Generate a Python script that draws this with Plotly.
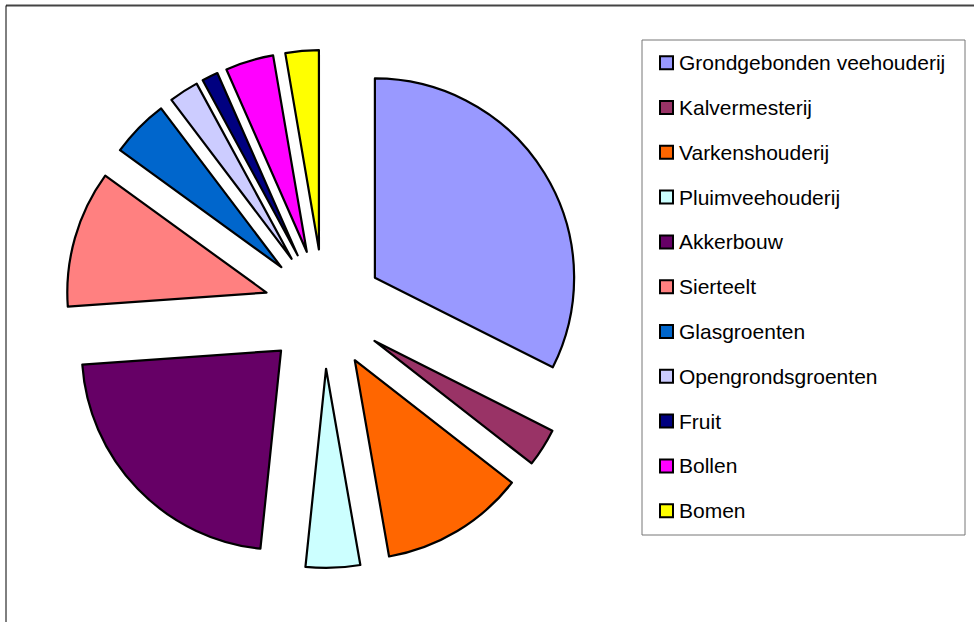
import plotly.graph_objects as go

# share of each sector (percent)
sectors = ["Grondgebonden veehouderij", "Kalvermesterij", "Varkenshouderij",
           "Pluimveehouderij", "Akkerbouw", "Sierteelt", "Glasgroenten",
           "Opengrondsgroenten", "Fruit", "Bollen", "Bomen"]
shares = [32.4, 3.1, 11.7, 4.4, 22.2, 11.1, 4.7, 2.4, 1.3, 3.9, 2.7]
colors = ["#9999FF", "#993366", "#FF6600", "#CCFFFF", "#660066", "#FF8080",
          "#0066CC", "#CCCCFF", "#000080", "#FF00FF", "#FFFF00"]

W, H = 974, 622
cx, cy, half = 324, 309, 259  # pie centre and half-size of its domain (px)

fig = go.Figure(go.Pie(
    labels=sectors,
    values=shares,
    sort=False,
    direction="clockwise",
    rotation=0,
    pull=[0.3] * len(sectors),
    marker=dict(colors=colors, line=dict(color="black", width=2.2)),
    textinfo="none",
    hoverinfo="label+percent",
    domain=dict(x=[(cx - half) / W, (cx + half) / W], y=[1 - (cy + half) / H, 1 - (cy - half) / H]),
))

# outer chart frame (top and left edges visible)
shapes = [
    dict(type="line", xref="paper", yref="paper", x0=6 / W, x1=1, y0=1 - 5.5 / H, y1=1 - 5.5 / H,
         line=dict(color="#444444", width=2)),
    dict(type="line", xref="paper", yref="paper", x0=6 / W, x1=6 / W, y0=0, y1=1 - 5.5 / H,
         line=dict(color="black", width=1)),
    # legend box
    dict(type="rect", xref="paper", yref="paper", x0=642 / W, x1=965 / W, y0=1 - 535 / H, y1=1 - 40 / H,
         line=dict(color="#777777", width=1), fillcolor="white"),
]
annotations = []

# manual legend so the row spacing matches the original
row0, gap = 62.7, 44.8
for i, (name, col) in enumerate(zip(sectors, colors)):
    yc = row0 + i * gap
    shapes.append(dict(type="rect", xref="paper", yref="paper",
                       x0=660 / W, x1=673 / W, y0=1 - (yc + 6.5) / H, y1=1 - (yc - 6.5) / H,
                       line=dict(color="black", width=2), fillcolor=col))
    annotations.append(dict(text=name, xref="paper", yref="paper", x=677 / W, y=1 - yc / H,
                            xanchor="left", yanchor="middle", showarrow=False,
                            font=dict(family="Arial, Liberation Sans", size=21, color="black")))

fig.update_layout(
    width=W, height=H,
    margin=dict(l=0, r=0, t=0, b=0),
    paper_bgcolor="white",
    plot_bgcolor="white",
    showlegend=False,
    shapes=shapes,
    annotations=annotations,
)

# drop the page's default body margin so the figure sits at the window corner
fig.write_html("out.html", config={"displayModeBar": False},
               post_script="document.body.style.margin='0';")
